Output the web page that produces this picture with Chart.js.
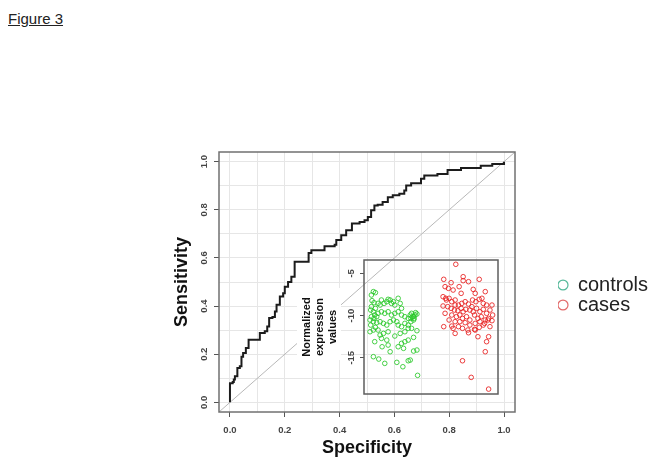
<!DOCTYPE html>
<html>
<head>
<meta charset="utf-8">
<script src="https://cdn.jsdelivr.net/npm/chart.js@4.4.1/dist/chart.umd.min.js"></script>
<style>
  html, body { margin: 0; padding: 0; background: #fff; }
  .wrap { position: relative; width: 653px; height: 471px; }
  .wrap canvas { position: absolute; left: 0; top: 0; }
  .fig-title {
    position: absolute; left: 8px; top: 11px;
    font: 15px "Liberation Sans", Arial, sans-serif; line-height: 15px;
    color: #222; text-decoration: underline;
  }
</style>
</head>
<body>
<div class="wrap">
  <div class="fig-title">Figure 3</div>
  <canvas id="rocChart" width="653" height="471"></canvas>
  <canvas id="insetChart" width="653" height="471"></canvas>
</div>
<script>
// ROC curve (x = value shown on the "Specificity" axis)
const specificity = [0, 0, 0.010, 0.014, 0.018, 0.027, 0.036, 0.042, 0.048, 0.058, 0.068, 0.109, 0.127, 0.136, 0.143, 0.155, 0.164, 0.170, 0.182, 0.194, 0.200, 0.212, 0.224, 0.236, 0.287, 0.297, 0.345, 0.382, 0.388, 0.406, 0.424, 0.445, 0.473, 0.491, 0.503, 0.515, 0.527, 0.539, 0.557, 0.576, 0.594, 0.618, 0.636, 0.643, 0.661, 0.697, 0.709, 0.757, 0.794, 0.843, 0.915, 0.957, 1.0]
const sensitivity = [0, 0.079, 0.085, 0.095, 0.109, 0.143, 0.150, 0.190, 0.205, 0.226, 0.260, 0.288, 0.295, 0.315, 0.350, 0.355, 0.377, 0.405, 0.440, 0.453, 0.480, 0.500, 0.522, 0.584, 0.620, 0.632, 0.649, 0.655, 0.674, 0.694, 0.715, 0.743, 0.749, 0.756, 0.770, 0.798, 0.818, 0.821, 0.832, 0.852, 0.860, 0.867, 0.880, 0.901, 0.910, 0.929, 0.942, 0.949, 0.965, 0.974, 0.983, 0.990, 1.0]
const diagonal = [-0.04, 1.04]
const gridTicks = [0, 0.1, 0.2, 0.3, 0.4, 0.5, 0.6, 0.7, 0.8, 0.9, 1.0]

// inset: normalized expression values (x = jittered group position)
const controlsX = [0.64, 0.67, 0.61, 0.62, 0.65, 0.61, 0.60, 0.64, 0.67, 0.71, 0.74, 0.76, 0.80, 0.84, 0.86, 0.89, 0.91, 0.94, 0.96, 1.01, 1.04, 1.06, 1.01, 0.96, 0.91, 0.86, 0.81, 0.76, 0.71, 0.66, 0.61, 0.59, 0.64, 0.69, 0.74, 0.79, 0.84, 0.89, 0.94, 0.99, 1.06, 1.11, 1.16, 1.19, 1.21, 1.24, 1.26, 1.29, 1.24, 1.20, 1.16, 1.16, 1.21, 1.11, 1.06, 1.01, 0.59, 0.64, 0.71, 0.74, 0.79, 0.86, 0.96, 1.04, 1.11, 1.29, 1.24, 0.76, 0.84, 0.66, 1.11, 1.16, 1.06, 1.01, 0.77, 0.86, 0.89, 1.09, 1.24, 1.29, 0.64, 0.72, 0.81, 0.99, 1.16, 1.19, 1.08, 1.30, 1.22, 1.25, 1.27, 1.20, 0.65, 0.60, 0.69, 0.67]
const controlsY = [-7.17, -7.29, -7.57, -8.24, -8.48, -8.95, -9.35, -9.55, -9.15, -8.56, -8.76, -8.16, -8.56, -8.36, -8.08, -8.16, -8.56, -8.36, -8.76, -7.96, -8.56, -9.15, -9.55, -9.74, -9.94, -9.55, -9.74, -9.55, -9.74, -9.94, -10.14, -10.53, -10.73, -10.85, -10.73, -10.93, -11.13, -10.73, -10.53, -10.73, -9.94, -10.14, -10.34, -9.94, -9.74, -10.14, -9.94, -9.82, -10.53, -10.73, -11.13, -11.52, -11.52, -10.93, -11.32, -11.13, -11.92, -11.72, -11.72, -12.31, -12.12, -11.92, -12.43, -12.12, -11.92, -11.80, -12.59, -12.71, -12.91, -13.10, -13.10, -12.91, -13.30, -13.70, -13.70, -13.50, -14.29, -13.89, -14.21, -14.09, -14.88, -15.16, -15.67, -15.55, -15.36, -15.28, -16.07, -17.09, -10.14, -10.34, -9.66, -10.34, -10.34, -11.13, -10.14, -11.40]
const casesX = [1.87, 1.69, 1.80, 1.98, 1.98, 2.06, 2.22, 1.71, 1.76, 1.83, 1.95, 2.13, 2.31, 1.68, 1.73, 1.77, 1.81, 1.86, 1.91, 1.96, 2.01, 2.06, 2.12, 2.17, 2.22, 2.26, 2.28, 2.33, 2.41, 1.68, 1.75, 1.80, 1.85, 1.90, 1.95, 1.98, 2.02, 2.08, 2.13, 2.18, 2.23, 2.28, 2.33, 2.38, 2.42, 1.71, 1.81, 1.88, 1.93, 1.97, 2.03, 2.08, 2.15, 2.20, 2.25, 2.31, 2.36, 2.41, 1.77, 1.86, 1.93, 2.01, 2.08, 2.16, 2.23, 2.30, 2.35, 1.69, 1.81, 1.83, 1.91, 1.97, 2.05, 2.15, 2.22, 2.28, 1.86, 2.06, 2.16, 2.20, 2.36, 2.33, 2.31, 1.97, 2.10, 2.36, 2.38, 1.72, 2.11, 2.16, 1.92, 1.86]
const casesY = [-3.93, -5.71, -6.11, -5.40, -5.87, -5.99, -5.71, -6.58, -6.78, -6.98, -7.37, -6.90, -7.17, -7.77, -8.16, -7.96, -8.36, -8.16, -8.76, -8.56, -8.36, -8.64, -8.16, -8.36, -8.08, -7.96, -8.56, -8.76, -8.76, -8.87, -8.95, -9.15, -9.35, -9.43, -9.15, -9.55, -9.27, -9.35, -9.55, -9.15, -9.55, -9.27, -9.74, -9.35, -9.94, -9.74, -9.94, -10.14, -9.94, -10.34, -10.14, -10.53, -9.94, -10.34, -10.14, -10.53, -10.34, -10.61, -10.53, -10.73, -10.73, -10.85, -11.13, -10.93, -10.73, -10.93, -10.53, -11.32, -11.25, -11.52, -11.32, -11.52, -11.72, -11.64, -11.40, -11.13, -12.12, -12.04, -11.72, -12.51, -12.51, -13.10, -14.29, -15.36, -17.33, -18.72, -11.32, -7.96, -8.95, -7.37, -6.58, -8.76]
const insetTicks = [-5, -10, -15]
const groupNames = ['controls', 'cases']
const legendColors = ['#55b99a', '#e26a6a']

const FONT = '"Liberation Sans", Arial, sans-serif'
Chart.defaults.font.family = FONT
Chart.defaults.color = '#444'

// box round the plot area (R style)
const frame = {
  id: 'frame',
  afterDatasetsDraw(chart, args, opts) {
    const { ctx, chartArea: a } = chart
    ctx.save()
    ctx.strokeStyle = opts.color
    ctx.lineWidth = opts.width
    ctx.strokeRect(a.left, a.top, a.right - a.left, a.bottom - a.top)
    ctx.restore()
  },
}

// white patch behind the inset axis title
const labelMask = {
  id: 'labelMask',
  beforeDraw(chart, args, o) {
    const ctx = chart.ctx
    ctx.save()
    ctx.fillStyle = '#fff'
    ctx.fillRect(o.x, o.y, o.w, o.h)
    ctx.restore()
  },
}

const everyOther = (v, i) => (i % 2 === 0 ? v.toFixed(1) : '')
const majorTick = c => (c.index % 2 === 0 ? '#555' : 'rgba(0,0,0,0)')
const tickFont = { size: 9.5, weight: 'bold' }

new Chart(document.getElementById('rocChart'), {
  type: 'line',
  data: {
    datasets: [
      {
        label: 'ROC',
        data: specificity.map((v, i) => ({ x: v, y: sensitivity[i] })),
        borderColor: '#1c1c1c',
        borderWidth: 2,
        pointRadius: 0,
        stepped: 'before',
        order: 1,
      },
      {
        label: 'chance',
        data: diagonal.map(v => ({ x: v, y: v })),
        borderColor: '#b8b8b8',
        borderWidth: 1,
        pointRadius: 0,
        order: 2,
      },
    ],
  },
  options: {
    responsive: false,
    animation: false,
    devicePixelRatio: 1,
    layout: { padding: { left: 171, top: 152, right: 138, bottom: 12 } },
    plugins: {
      legend: { display: false },
      tooltip: { enabled: false },
      frame: { color: '#707070', width: 1.5 },
    },
    scales: {
      x: {
        type: 'linear',
        min: -0.04,
        max: 1.04,
        afterBuildTicks: s => { s.ticks = gridTicks.map(v => ({ value: v })) },
        afterFit: s => { s.height = 47 },
        grid: { color: '#e6e6e6', tickLength: 5, tickColor: majorTick },
        border: { display: false },
        ticks: { padding: 8, autoSkip: false, maxRotation: 0, font: tickFont, callback: everyOther },
        title: { display: true, text: 'Specificity', color: '#111', padding: 0, font: { size: 18, weight: 'bold' } },
      },
      y: {
        type: 'linear',
        min: -0.04,
        max: 1.04,
        afterBuildTicks: s => { s.ticks = gridTicks.map(v => ({ value: v })) },
        afterFit: s => { s.width = 48 },
        grid: { color: '#e6e6e6', tickLength: 5, tickColor: majorTick },
        border: { display: false },
        ticks: { padding: 3, autoSkip: false, minRotation: 90, maxRotation: 90, crossAlign: 'center', font: tickFont, callback: everyOther },
        title: { display: true, text: 'Sensitivity', color: '#111', padding: 0, font: { size: 18, weight: 'bold' } },
      },
    },
  },
  plugins: [frame],
})

new Chart(document.getElementById('insetChart'), {
  type: 'scatter',
  data: {
    datasets: [
      {
        label: groupNames[0],
        data: controlsX.map((v, i) => ({ x: v, y: controlsY[i] })),
        pointBorderColor: 'rgba(40, 200, 40, 0.85)',
        pointBackgroundColor: 'rgba(0, 0, 0, 0)',
        pointRadius: 2.3,
        pointBorderWidth: 1,
      },
      {
        label: groupNames[1],
        data: casesX.map((v, i) => ({ x: v, y: casesY[i] })),
        pointBorderColor: 'rgba(232, 30, 30, 0.85)',
        pointBackgroundColor: 'rgba(0, 0, 0, 0)',
        pointRadius: 2.3,
        pointBorderWidth: 1,
      },
    ],
  },
  options: {
    responsive: false,
    animation: false,
    devicePixelRatio: 1,
    layout: { padding: { left: 300, top: 260, right: 0, bottom: 77 } },
    plugins: {
      tooltip: { enabled: false },
      frame: { color: '#5e5e5e', width: 1.5 },
      labelMask: { x: 297, y: 288, w: 44, h: 72 },
      legend: {
        position: 'right',
        align: 'start',
        maxWidth: 95,
        title: { display: true, text: ' ', padding: 0, font: { size: 12.5 } },
        labels: {
          usePointStyle: true,
          pointStyleWidth: 10,
          boxWidth: 10,
          boxHeight: 7,
          padding: 0,
          color: '#222',
          font: { size: 20 },
          generateLabels: chart => chart.data.datasets.map((d, i) => ({
            text: d.label,
            datasetIndex: i,
            pointStyle: 'circle',
            fillStyle: 'rgba(0, 0, 0, 0)',
            strokeStyle: legendColors[i],
            lineWidth: 1.2,
            fontColor: '#222',
            hidden: false,
          })),
        },
      },
    },
    scales: {
      x: { type: 'linear', min: 0.5, max: 2.5, display: false },
      y: {
        type: 'linear',
        min: -19.3,
        max: -3.42,
        afterBuildTicks: s => { s.ticks = insetTicks.map(v => ({ value: v })) },
        afterFit: s => { s.width = 64 },
        grid: { drawOnChartArea: false, tickLength: 4, tickColor: '#555' },
        border: { display: false },
        ticks: { padding: 2, autoSkip: false, minRotation: 90, maxRotation: 90, crossAlign: 'center', font: tickFont },
        title: { display: true, text: ['Normalized', 'expression', 'values'], color: '#111', padding: 0, font: { size: 11, weight: 'bold' } },
      },
      yPad: {
        type: 'linear',
        position: 'right',
        afterFit: s => { s.width = 60 },
        grid: { display: false },
        border: { display: false },
        ticks: { display: false },
      },
    },
  },
  plugins: [labelMask, frame],
})
</script>
</body>
</html>
